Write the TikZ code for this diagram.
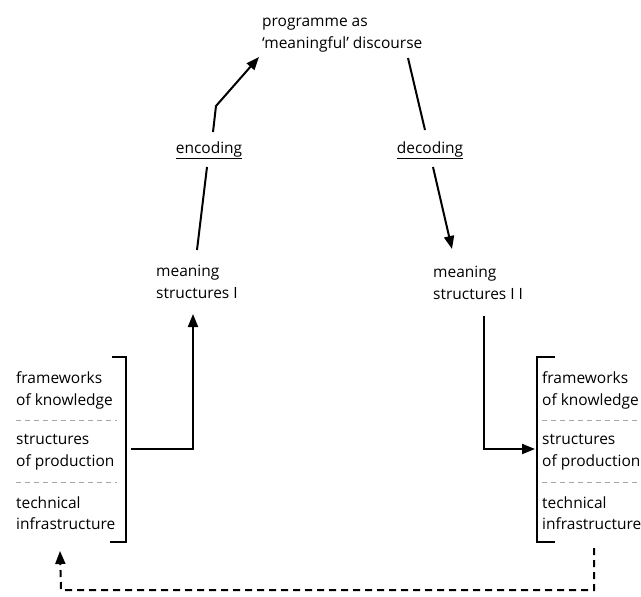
\documentclass[tikz,border=0pt]{standalone}
\usepackage{fontspec}
\setmainfont{Open Sans}
\usetikzlibrary{arrows.meta}
\begin{document}
\begin{tikzpicture}[x=1pt,y=-1pt,
  txt/.style={anchor=north west,inner sep=0pt,align=left,font=\fontsize{15.5}{21.5}\selectfont,text=black},
  lbl/.style={inner sep=0pt,font=\fontsize{15.5}{21.5}\selectfont,text=black},
  conn/.style={line width=2pt,-{Triangle[length=13pt,width=10pt]}},
  plain/.style={line width=2pt},
  brk/.style={line width=2pt},
  sep/.style={gray!70,line width=1pt,dash pattern=on 5pt off 4pt},
  fb/.style={line width=2pt,dash pattern=on 7pt off 5pt,-{Triangle[length=13pt,width=10pt]}}]
\useasboundingbox (0,0) rectangle (641,597);
\fill[white] (0,0) rectangle (641,597);

% top node
\node[txt] (prog) at (262,18) {programme as\\‘meaningful’ discourse};
% labels
\node[lbl] (enc) at (209,150) {\underline{encoding}};
\node[lbl] (dec) at (430,150) {\underline{decoding}};
% meaning structures
\node[txt] (m1) at (156,265) {meaning\\structures I};
\node[txt] (m2) at (433,266) {meaning\\structures I I};

% left stack
\node[txt] (lk) at (16,371.5) {frameworks\\of knowledge};
\node[txt] (lp) at (16,434.5) {structures\\of production};
\node[txt] (lt) at (16,496.5) {technical\\infrastructure};
\coordinate (ld1a) at (16,420); \coordinate (ld1b) at (117,420);
\coordinate (ld2a) at (16,482); \coordinate (ld2b) at (117,482);
\draw[sep] (ld1a) -- (ld1b);
\draw[sep] (ld2a) -- (ld2b);
% left bracket
\coordinate (lb1) at (112,357); \coordinate (lb2) at (126,357);
\coordinate (lb3) at (126,542); \coordinate (lb4) at (110,542);
\draw[brk] (lb1) -- (lb2) -- (lb3) -- (lb4);

% right stack
\node[txt] (rk) at (542,371.5) {frameworks\\of knowledge};
\node[txt] (rp) at (542,434.5) {structures\\of production};
\node[txt] (rt) at (542,496.5) {technical\\infrastructure};
\coordinate (rd1a) at (542,420); \coordinate (rd1b) at (641,420);
\coordinate (rd2a) at (542,482); \coordinate (rd2b) at (641,482);
\draw[sep] (rd1a) -- (rd1b);
\draw[sep] (rd2a) -- (rd2b);
\coordinate (rb1) at (555,357); \coordinate (rb2) at (537,357);
\coordinate (rb3) at (537,542); \coordinate (rb4) at (555,542);
\draw[brk] (rb1) -- (rb2) -- (rb3) -- (rb4);

% encoding path
\coordinate (e0) at (197,250);
\coordinate (e1) at (207,167);
\coordinate (e2) at (213,132);
\coordinate (e3) at (216,106);
\coordinate (e4) at (259,57);
\draw[plain] (e0) -- (e1);
\draw[conn] (e2) -- (e3) -- (e4);

% decoding path
\coordinate (d0) at (408,58);
\coordinate (d1) at (425,130);
\coordinate (d2) at (433,167);
\coordinate (d3) at (452,249);
\draw[plain] (d0) -- (d1);
\draw[conn] (d2) -- (d3);

% left bracket to meaning I
\coordinate (a0) at (131,449);
\coordinate (a1) at (193,449);
\coordinate (a2) at (193,314);
\draw[conn] (a0) -- (a1) -- (a2);

% meaning II to right bracket
\coordinate (b0) at (484,316);
\coordinate (b1) at (484,449);
\coordinate (b2) at (535,449);
\draw[conn] (b0) -- (b1) -- (b2);

% feedback
\coordinate (f0) at (594,548);
\coordinate (f1) at (594,590);
\coordinate (f2) at (61,590);
\coordinate (f3) at (60,551);
\draw[fb] (f0) -- (f1) -- (f2) -- (f3);
\end{tikzpicture}
\end{document}
